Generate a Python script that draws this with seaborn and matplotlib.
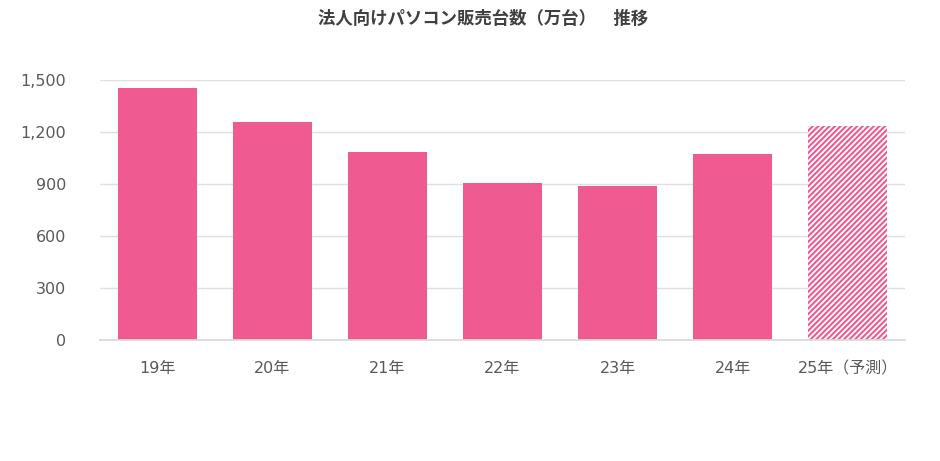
import matplotlib
matplotlib.use("Agg")
import matplotlib.pyplot as plt
import seaborn as sns
import pandas as pd
from matplotlib.ticker import FuncFormatter

categories = ["19年", "20年", "21年", "22年", "23年", "24年", "25年（予測）"]
values = [1452, 1256, 1083, 905, 888, 1072, 1235]
yticks = [0, 300, 600, 900, 1200, 1500]
title = "法人向けパソコン販売台数（万台）　推移"

PINK = "#EF5A91"

sns.set_theme(style="white")
plt.rcParams["font.family"] = ["DejaVu Sans", "Noto Sans CJK JP"]
plt.rcParams["hatch.linewidth"] = 1.5

df = pd.DataFrame({"cat": categories, "val": values})

fig = plt.figure(figsize=(9.4, 4.61), dpi=100)
ax = fig.add_axes([0.106, 0.2625, 0.857, 0.564])
sns.barplot(data=df, x="cat", y="val", color=PINK, saturation=1, width=0.687, ax=ax)

last = ax.patches[-1]
last.set_facecolor("white")
last.set_edgecolor(PINK)
last.set_hatch("//////")
last.set_linewidth(0)

for p in ax.patches[:-1]:
    p.set_linewidth(0)

ax.set_xlim(-0.5, 6.5)
ax.set_ylim(0, 1500)
ax.set_yticks(yticks)
ax.yaxis.set_major_formatter(FuncFormatter(lambda v, _: f"{int(v):,}"))
ax.grid(axis="y", color="#E0E0E0", linewidth=1)
ax.set_axisbelow(True)
for s in ["top", "right", "left"]:
    ax.spines[s].set_visible(False)
ax.spines["bottom"].set_color("#D9D9D9")
ax.tick_params(axis="both", length=0, labelsize=11.5, colors="#595959")
ax.tick_params(axis="y", pad=24)
ax.tick_params(axis="x", pad=15)
ax.set_xlabel("")
ax.set_ylabel("")
fig.text(0.514, 0.958, title, ha="center", va="center", fontsize=12.5, fontweight="bold",
         color="#404040", family=["Noto Sans CJK JP", "DejaVu Sans"])

fig.savefig("out.png", dpi=100, facecolor="white")
